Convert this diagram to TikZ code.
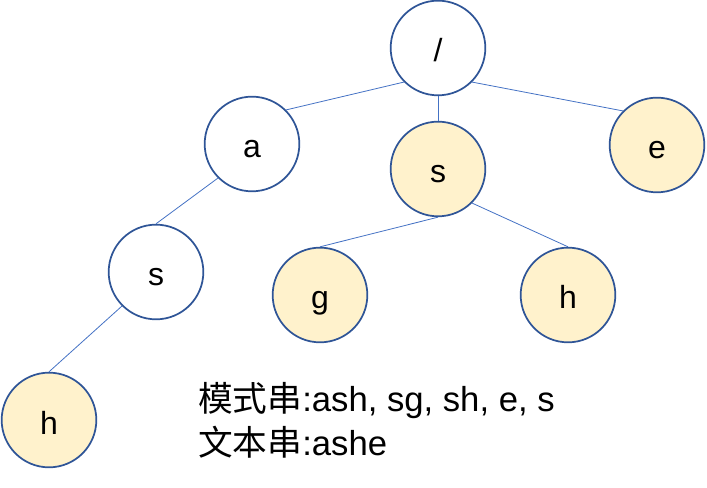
\documentclass[tikz,border=0pt]{standalone}
\usepackage{fontspec}
\setmainfont{Liberation Sans}
\newfontfamily\cjk{Noto Sans CJK SC}
\definecolor{nodeborder}{HTML}{2F5597}
\definecolor{nodefill}{HTML}{FFF2CC}
\definecolor{edgecol}{HTML}{4472C4}
\begin{document}
\begin{tikzpicture}[x=0.75pt,y=-0.75pt,
  trienode/.style={circle,draw=nodeborder,line width=1.3pt,minimum size=71pt,inner sep=0pt,text height=21pt,text depth=0pt,font=\fontsize{24}{26}\selectfont},
  hit/.style={trienode,fill=nodefill},
  plain/.style={trienode,fill=white},
  edge/.style={draw=edgecol,line width=0.6pt}]
\useasboundingbox (0,0) rectangle (707,488);
\node[plain] (root) at (438,48) {/};
\node[plain] (a) at (252,144) {a};
\node[hit] (s2) at (438,169) {s};
\node[hit] (e) at (657,145) {e};
\node[plain] (s1) at (156,272) {s};
\node[hit] (g) at (320,295) {g};
\node[hit] (h2) at (568,295) {h};
\node[hit] (h1) at (49,420) {h};
\draw[edge] (root.south west) -- (a.north east);
\draw[edge] (root.south) -- (s2.north);
\draw[edge] (root.south east) -- (e.north west);
\draw[edge] (a.south west) -- (s1.north);
\draw[edge] (s1.south west) -- (h1.north);
\draw[edge] (s2.south) -- (g.north);
\draw[edge] (s2.south east) -- (h2.north);
\node[anchor=west,inner sep=0pt,align=left,font=\fontsize{26}{33}\selectfont] (txt) at (198,420)
  {{\cjk 模式串}:ash, sg, sh, e, s\\{\cjk 文本串}:ashe};
\end{tikzpicture}
\end{document}
